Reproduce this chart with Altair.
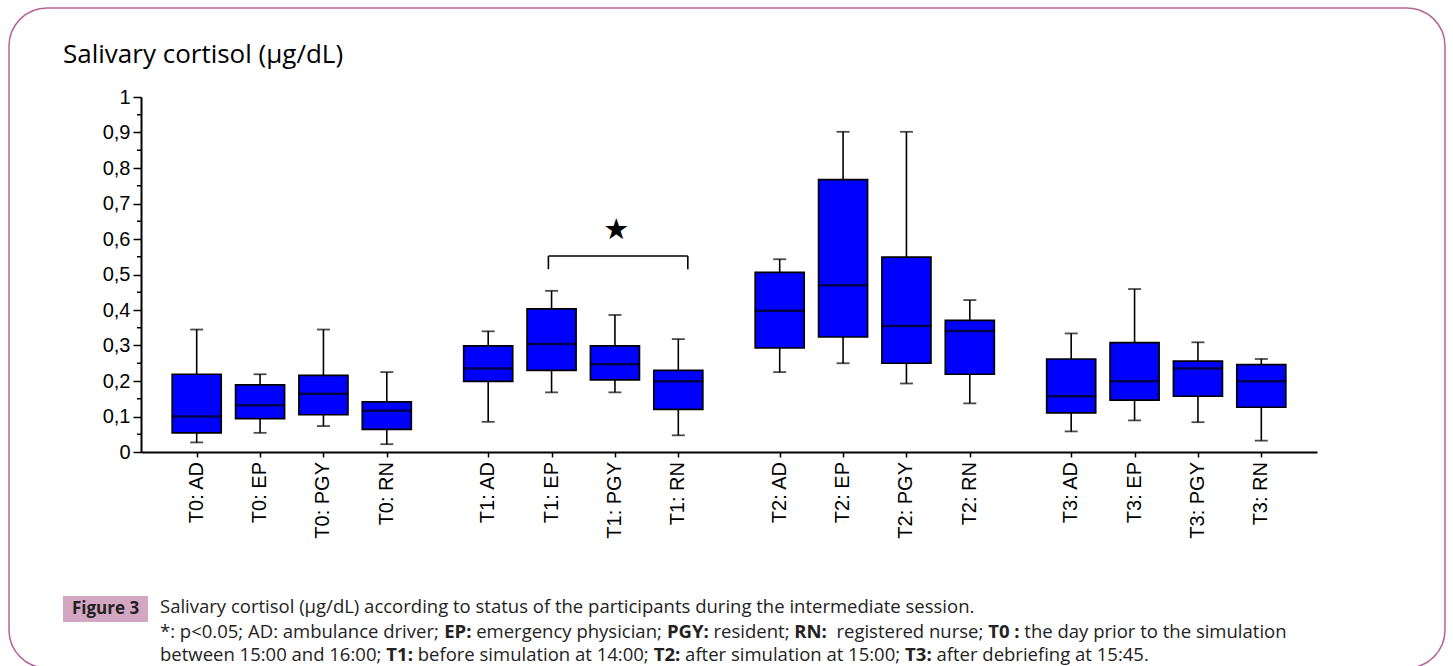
import os
import struct
import altair as alt
import pandas as pd

# ---- data ----
times = ["T0", "T1", "T2", "T3"]
roles = ["AD", "EP", "PGY", "RN"]
labels = [f"{t}: {r}" for t in times for r in roles]

low    = [0.027, 0.054, 0.073, 0.022,  0.085, 0.168, 0.168, 0.047,  0.225, 0.250, 0.193, 0.137,  0.058, 0.089, 0.084, 0.032]
q1     = [0.054, 0.094, 0.105, 0.064,  0.199, 0.230, 0.203, 0.120,  0.293, 0.324, 0.250, 0.219,  0.110, 0.146, 0.157, 0.126]
median = [0.100, 0.132, 0.164, 0.116,  0.235, 0.304, 0.247, 0.199,  0.398, 0.470, 0.355, 0.341,  0.157, 0.199, 0.235, 0.199]
q3     = [0.219, 0.189, 0.216, 0.141,  0.299, 0.403, 0.299, 0.230,  0.506, 0.767, 0.549, 0.371,  0.262, 0.308, 0.256, 0.246]
high   = [0.345, 0.219, 0.345, 0.225,  0.340, 0.454, 0.386, 0.318,  0.543, 0.902, 0.902, 0.428,  0.334, 0.459, 0.309, 0.262]

y_ticks = [0, 0.1, 0.2, 0.3, 0.4, 0.5, 0.6, 0.7, 0.8, 0.9, 1]

title_text = "Salivary cortisol (µg/dL)"
fig_label = "Figure 3"
# caption: (text, bold)
caption_lines = [
    [("Salivary cortisol (µg/dL) according to status of the participants during the intermediate session.", False)],
    [("*: p<0.05; AD: ambulance driver; ", False), ("EP:", True), (" emergency physician; ", False),
     ("PGY:", True), (" resident; ", False), ("RN:", True), ("  registered nurse; ", False),
     ("T0 :", True), (" the day prior to the simulation", False)],
    [("between 15:00 and 16:00; ", False), ("T1:", True), (" before simulation at 14:00; ", False),
     ("T2:", True), (" after simulation at 15:00; ", False), ("T3:", True),
     (" after debriefing at 15:45.", False)],
]


# ---- text measuring (advance widths read from installed font files) ----
def find_file(name):
    for root in ["/usr/share/fonts", "/usr/local/share/fonts",
                 os.path.expanduser("~/.fonts"), os.path.expanduser("~/.local/share/fonts")]:
        for dirpath, _, files in os.walk(root):
            for f in files:
                if f.lower() == name:
                    return os.path.join(dirpath, f)
    return None


def load_metrics(path):
    data = open(path, "rb").read()
    num = struct.unpack(">H", data[4:6])[0]
    tables = {}
    for i in range(num):
        tag, _, off, ln = struct.unpack(">4sIII", data[12 + 16 * i:28 + 16 * i])
        tables[tag.decode("latin1")] = off
    upem = struct.unpack(">H", data[tables["head"] + 18:tables["head"] + 20])[0]
    nhm = struct.unpack(">H", data[tables["hhea"] + 34:tables["hhea"] + 36])[0]
    ho = tables["hmtx"]
    adv = [struct.unpack(">H", data[ho + 4 * i:ho + 4 * i + 2])[0] for i in range(nhm)]
    co = tables["cmap"]
    n = struct.unpack(">H", data[co + 2:co + 4])[0]
    cmap = {}
    for i in range(n):
        pid, eid, so = struct.unpack(">HHI", data[co + 4 + 8 * i:co + 12 + 8 * i])
        sub = co + so
        if struct.unpack(">H", data[sub:sub + 2])[0] != 4:
            continue
        segx2 = struct.unpack(">H", data[sub + 6:sub + 8])[0]
        sc = segx2 // 2
        ends = struct.unpack(">%dH" % sc, data[sub + 14:sub + 14 + segx2])
        starts = struct.unpack(">%dH" % sc, data[sub + 16 + segx2:sub + 16 + 2 * segx2])
        deltas = struct.unpack(">%dh" % sc, data[sub + 16 + 2 * segx2:sub + 16 + 3 * segx2])
        rpos = sub + 16 + 3 * segx2
        roffs = struct.unpack(">%dH" % sc, data[rpos:rpos + segx2])
        for s in range(sc):
            for c in range(starts[s], min(ends[s], 0x2FF) + 1):
                if roffs[s] == 0:
                    g = (c + deltas[s]) & 0xFFFF
                else:
                    a = rpos + 2 * s + roffs[s] + 2 * (c - starts[s])
                    g = struct.unpack(">H", data[a:a + 2])[0]
                    if g:
                        g = (g + deltas[s]) & 0xFFFF
                cmap.setdefault(c, g)
        if cmap:
            break
    if not cmap:
        raise ValueError("no cmap")

    def width(text, size):
        return sum(adv[min(cmap.get(ord(ch), 0), nhm - 1)] for ch in text) / upem * size
    return width


cap_font, w_reg, w_bold = None, None, None
for fam, rn, bn in [("Open Sans", "opensans-regular.ttf", "opensans-bold.ttf"),
                    ("Lato", "lato-regular.ttf", "lato-bold.ttf"),
                    ("Liberation Sans", "liberationsans-regular.ttf", "liberationsans-bold.ttf")]:
    try:
        pr, pb = find_file(rn), find_file(bn)
        if pr and pb:
            w_reg, w_bold = load_metrics(pr), load_metrics(pb)
            cap_font = fam
            break
    except Exception:
        pass
if cap_font is None:
    cap_font = "Open Sans"
    w_reg = lambda t, s: sum(0.27 if c == " " else 0.54 for c in t) * s
    w_bold = lambda t, s: sum(0.27 if c == " " else 0.58 for c in t) * s


def seg_width(t, b, s):
    return (w_bold if b else w_reg)(t, s)


# font size: close to the reference line length, but small enough for the line spacing
target = 1230.0
unit = sum(seg_width(t, b, 1.0) for t, b in caption_lines[1])
cap_size = max(15.0, min(18.5, target / unit))

# ---- layout ----
W, H = 1176, 355
PL, PT = 141, 97
GAP = 1.6  # group spacing in slots

pos = []
for gi in range(len(times)):
    for ri in range(len(roles)):
        pos.append(1 + gi * (len(roles) - 1 + GAP) + ri)

df = pd.DataFrame({"label": labels, "pos": pos, "low": low, "q1": q1,
                   "median": median, "q3": q3, "high": high})

xscale = alt.Scale(domain=[0.2, 18.6], nice=False, zero=False)
yscale = alt.Scale(domain=[0, 1], nice=False)

x_axis = alt.Axis(values=pos, labels=False, title=None, tickSize=5,
                  tickWidth=1.5, tickColor="black", domainColor="black",
                  domainWidth=2, grid=False)
y_axis = alt.Axis(values=y_ticks,
                  labelExpr="replace(format(datum.value, '~g'), '.', ',')",
                  title=None, tickSize=8, tickWidth=1.5, tickColor="black",
                  domainColor="black", domainWidth=2, grid=False,
                  labelFont="Liberation Sans", labelFontSize=20, labelColor="black",
                  labelPadding=3, labelOverlap=False)

X = lambda: alt.X("pos:Q", scale=xscale, axis=x_axis)
Y = lambda f: alt.Y(f, scale=yscale, axis=y_axis)
XD = lambda v: alt.datum(v, scale=xscale, axis=x_axis)
YD = lambda v: alt.datum(v, scale=yscale, axis=y_axis)

base = alt.Chart(df)

whisk = base.mark_rule(color="black", strokeWidth=1.6).encode(
    x=X(), y=Y("low:Q"), y2="high:Q")
caps_lo = base.mark_tick(orient="horizontal", size=13, thickness=1.8, color="black").encode(
    x=X(), y=Y("low:Q"))
caps_hi = base.mark_tick(orient="horizontal", size=13, thickness=1.8, color="black").encode(
    x=X(), y=Y("high:Q"))
box = base.mark_bar(size=49, orient="vertical", color="#0000ff", stroke="black",
                    strokeWidth=1.7).encode(x=X(), y=Y("q1:Q"), y2="q3:Q")
med = base.mark_tick(orient="horizontal", size=50, thickness=2.5, color="black").encode(
    x=X(), y=Y("median:Q"))

xlab = base.mark_text(angle=270, align="right", baseline="middle",
                      font="Liberation Sans", fontSize=20, color="black").encode(
    x=X(), y=alt.value(H + 10), text="label:N")

# minor ticks on y axis (halfway between labelled ticks)
minor = pd.DataFrame({"v": [(a + b) / 2 for a, b in zip(y_ticks[:-1], y_ticks[1:])]})
minor_ticks = alt.Chart(minor).mark_rule(color="black", strokeWidth=1.5).encode(
    x=alt.value(-4), x2=alt.value(0), y=Y("v:Q"))

one = alt.Chart(pd.DataFrame({"a": [0]}))

# significance bracket
bx1, bx2 = 6.55, 8.75
b_top, b_bot = 0.552, 0.515
bracket_h = one.mark_rule(color="black", strokeWidth=1.6).encode(
    x=XD(bx1), x2=alt.datum(bx2), y=YD(b_top))
bracket_l = one.mark_rule(color="black", strokeWidth=1.6).encode(
    x=XD(bx1), y=YD(b_bot), y2=alt.datum(b_top))
bracket_r = one.mark_rule(color="black", strokeWidth=1.6).encode(
    x=XD(bx2), y=YD(b_bot), y2=alt.datum(b_top))
star = one.mark_text(text="★", font="DejaVu Sans", fontSize=29, color="black",
                     baseline="middle", align="center").encode(
    x=XD(7.62), y=YD(0.626))

# frame
frame = one.mark_rect(fill="white", fillOpacity=0, stroke="#b4649a", strokeWidth=1.5,
                      cornerRadius=38).encode(
    x=alt.value(9 - PL), x2=alt.value(1445 - PL), y=alt.value(8 - PT), y2=alt.value(668 - PT))

title = one.mark_text(text=title_text, font="Open Sans", fontSize=26, color="black",
                      align="left", baseline="middle").encode(
    x=alt.value(63 - PL), y=alt.value(55 - PT))

figbox = one.mark_rect(fill="#d3a6c2").encode(
    x=alt.value(63 - PL), x2=alt.value(148 - PL), y=alt.value(596 - PT), y2=alt.value(622 - PT))
figtxt = one.mark_text(text=fig_label, font=cap_font, fontSize=17, fontWeight="bold",
                       color="#222222", align="center", baseline="middle").encode(
    x=alt.value(105.5 - PL), y=alt.value(609 - PT))

cap_layers = []
for segs, yy in zip(caption_lines, [607, 632, 655]):
    cx = 160.0
    for t, b in segs:
        lead = len(t) - len(t.lstrip(" "))
        xs = cx + seg_width(" " * lead, b, cap_size)
        txt = t.strip(" ")
        cap_layers.append(one.mark_text(text=txt, font=cap_font, fontSize=cap_size,
                                        fontWeight="bold" if b else "normal",
                                        color="#222222", align="left", baseline="middle").encode(
            x=alt.value(xs - PL), y=alt.value(yy - PT)))
        cx += seg_width(t, b, cap_size)

chart = alt.layer(
    frame, whisk, caps_lo, caps_hi, box, med, xlab, minor_ticks,
    bracket_h, bracket_l, bracket_r, star, title, figbox, figtxt, *cap_layers
).properties(
    width=W, height=H,
    autosize=alt.AutoSizeParams(type="none"),
    padding={"left": PL, "top": PT, "right": 1453 - PL - W, "bottom": 666 - PT - H},
    background="white",
).configure_view(stroke=None)

chart.save("out.html", embed_options={"renderer": "svg", "actions": False})
